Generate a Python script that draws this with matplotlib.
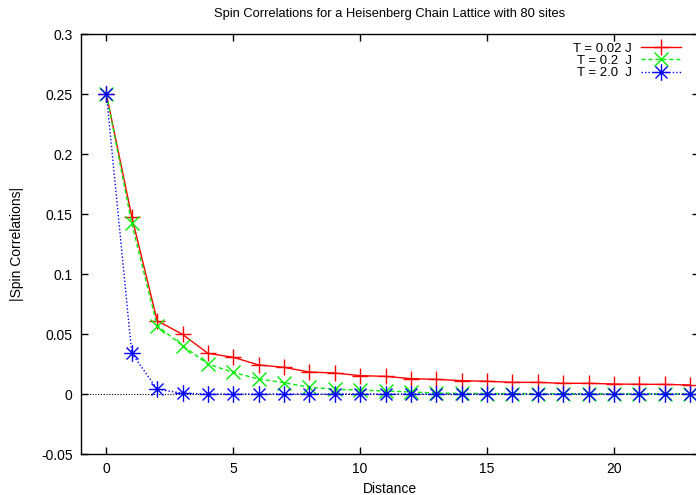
import matplotlib
matplotlib.use("Agg")
import matplotlib.pyplot as plt
from matplotlib.path import Path
from matplotlib.ticker import FuncFormatter

# =====================
# DATA
# =====================
distance = list(range(24))

corr_t002 = [0.25, 0.1478, 0.0611, 0.0497, 0.0339, 0.0306, 0.0242, 0.0222,
             0.0183, 0.0175, 0.0153, 0.0147, 0.0128, 0.0122, 0.0111, 0.0106,
             0.0097, 0.0097, 0.0089, 0.0089, 0.0083, 0.0081, 0.0080, 0.0075]
corr_t02 = [0.25, 0.1422, 0.0569, 0.0403, 0.0250, 0.0180, 0.0125, 0.0094,
            0.0056, 0.0039, 0.0033, 0.0025, 0.0017, 0.0008, 0.0005, 0.0004,
            0.0003, 0.0003, 0.0002, 0.0002, 0.0002, 0.0001, 0.0001, 0.0001]
corr_t20 = [0.25, 0.034, 0.004, 0.0006, 0.0, 0.0, 0.0, 0.0,
            0.0, 0.0, 0.0, 0.0, 0.0, 0.0, 0.0, 0.0,
            0.0, 0.0, 0.0, 0.0, 0.0, 0.0, 0.0, 0.0]

labels = ["T = 0.02 J", "T = 0.2  J", "T = 2.0  J"]

xticks = [0, 5, 10, 15, 20]
yticks = [-0.05, 0, 0.05, 0.1, 0.15, 0.2, 0.25, 0.3]

# =====================
# STYLE (gnuplot look)
# =====================
plt.rcParams['font.family'] = ['Liberation Sans', 'DejaVu Sans']
plt.rcParams['font.size'] = 10

# gnuplot "*" point = plus and cross together
star = Path([(-1, 0), (1, 0), (0, -1), (0, 1),
             (-0.72, -0.72), (0.72, 0.72), (-0.72, 0.72), (0.72, -0.72)],
            [Path.MOVETO, Path.LINETO] * 4)

fig = plt.figure(figsize=(6.96, 4.95), dpi=100)
ax = fig.add_axes([81 / 696, 1 - 454 / 495, 618 / 696, 420 / 495])

ax.axhline(0, color='black', lw=0.8, ls=(0, (1, 1.5)), zorder=1)

ax.plot(distance, corr_t002, color='#ff0000', lw=1, ls='-',
        marker='+', ms=12, mew=1, label=labels[0], zorder=3)
ax.plot(distance, corr_t02, color='#00ee00', lw=1, ls=(0, (3, 2)),
        marker='x', ms=10.5, mew=1, label=labels[1], zorder=3)
ax.plot(distance, corr_t20, color='#0000ff', lw=1, ls=(0, (1, 1.5)),
        marker=star, ms=12, mew=1, label=labels[2], zorder=4)

ax.set_xlim(-1, 23.35)
ax.set_ylim(-0.05, 0.3)
ax.set_xticks(xticks)
ax.set_yticks(yticks)
ax.yaxis.set_major_formatter(FuncFormatter(lambda v, p: '%g' % round(v, 4)))

ax.tick_params(direction='in', length=5, width=1, top=True, right=True,
               labelsize=10, pad=6)
for s in ax.spines.values():
    s.set_linewidth(1)

ax.set_title('Spin Correlations for a Heisenberg Chain Lattice with 80 sites',
             fontsize=9.3, pad=12)
ax.set_xlabel('Distance', labelpad=4)
ax.set_ylabel('|Spin Correlations|', labelpad=12)

leg = ax.legend(loc='upper right', bbox_to_anchor=(0.99, 1.008), frameon=False,
                markerfirst=False, handlelength=3.05, handletextpad=0.65,
                labelspacing=0.0, borderpad=0.4, fontsize=9.5)

fig.savefig('out.png', dpi=100)
